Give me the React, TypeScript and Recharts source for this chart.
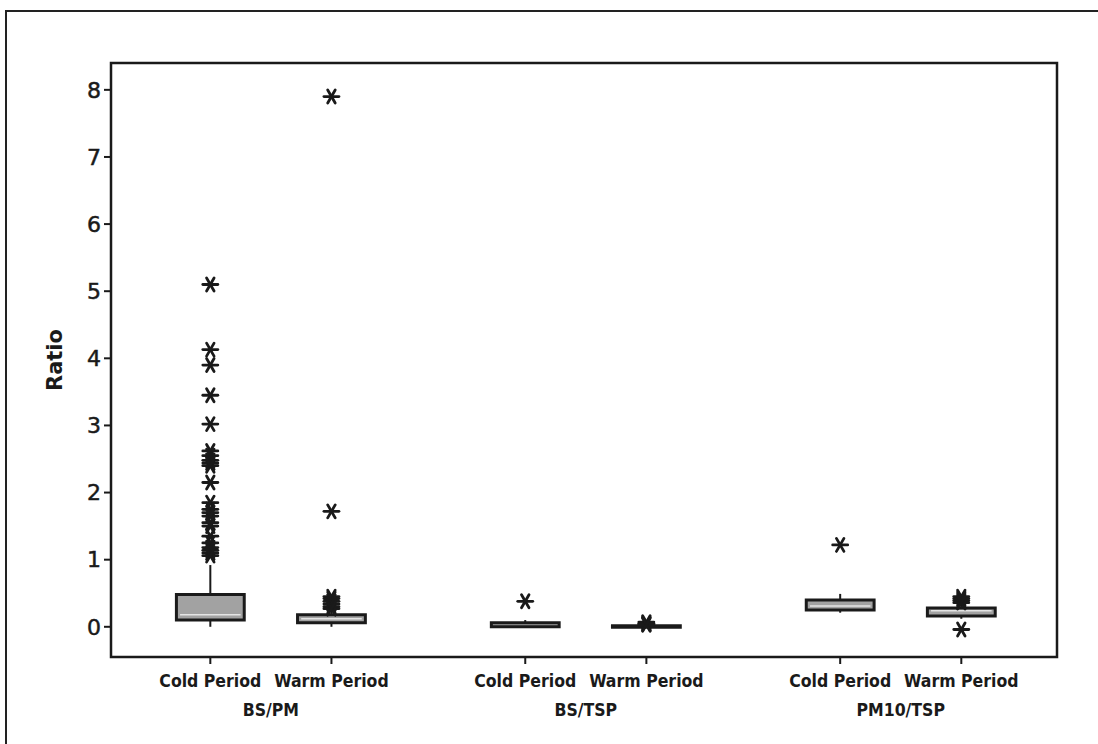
import {
  ComposedChart,
  XAxis,
  YAxis,
  Scatter,
  ReferenceArea,
  ReferenceLine,
} from 'recharts';

// slot positions on the x scale (two periods per ratio group)
const positions = [1, 2, 3.6, 4.6, 6.2, 7.2];
const periodLabels = ['Cold Period', 'Warm Period', 'Cold Period', 'Warm Period', 'Cold Period', 'Warm Period'];
const groupPositions = [1.5, 4.1, 6.7];
const groupLabels = ['BS/PM', 'BS/TSP', 'PM10/TSP'];
const yTicks = [0, 1, 2, 3, 4, 5, 6, 7, 8];

// box statistics per slot
const whiskerLow = [0.0, 0.0, -0.01, -0.01, 0.21, 0.12];
const q1 = [0.1, 0.06, 0.0, -0.005, 0.25, 0.16];
const median = [0.18, 0.12, 0.03, 0.005, 0.31, 0.24];
const q3 = [0.48, 0.18, 0.06, 0.015, 0.4, 0.28];
const whiskerHigh = [0.92, 0.25, 0.1, 0.03, 0.49, 0.33];

const outliers: number[][] = [
  [5.1, 4.13, 3.9, 3.45, 3.02, 2.62, 2.55, 2.48, 2.44, 2.4, 2.15, 1.85, 1.75, 1.7, 1.65, 1.55, 1.5, 1.35, 1.25, 1.18, 1.14, 1.1, 1.06],
  [7.9, 1.72, 0.45, 0.42, 0.38, 0.34, 0.3, 0.27],
  [0.38],
  [0.07, 0.05, 0.04, 0.03],
  [1.22],
  [0.45, 0.42, 0.39, 0.36, -0.04],
];

const X_DOMAIN: [number, number] = [0.18, 7.99];
const Y_DOMAIN: [number, number] = [-0.45, 8.4];
const BOX_HALF = 0.28;

const outlierPoints = outliers.flatMap((vals, i) => vals.map((v) => ({ x: positions[i], y: v })));
const groupAnchors = groupPositions.map((x) => ({ x, y: 0 }));

const LABEL_FONT = "'DejaVu Sans Condensed', 'DejaVu Sans', sans-serif";
const NUM_FONT = "'DejaVu Sans', Verdana, sans-serif";

const Asterisk = (props: any) => {
  const { cx, cy } = props;
  if (cx == null || cy == null) return null;
  const r = 7.5;
  const arms = [0, 60, 120].map((deg) => {
    const a = (deg * Math.PI) / 180;
    const dx = Math.cos(a) * r;
    const dy = Math.sin(a) * r;
    return <line key={deg} x1={cx - dx} y1={cy - dy} x2={cx + dx} y2={cy + dy} />;
  });
  return (
    <g stroke="#1a1a1a" strokeWidth={2.8} strokeLinecap="round">
      {arms}
    </g>
  );
};

const PeriodTick = (props: any) => {
  const { x, y, payload } = props;
  const idx = positions.indexOf(payload.value);
  return (
    <text x={x} y={y + 21} textAnchor="middle" fontFamily={LABEL_FONT} fontWeight="bold" fontSize={17.5} fill="#1a1a1a">
      {periodLabels[idx]}
    </text>
  );
};

const GroupTick = (props: any) => {
  const { x, y, payload } = props;
  const idx = groupPositions.findIndex((g) => Math.abs(g - payload.value) < 1e-6);
  return (
    <text x={x} y={y + 17} textAnchor="middle" fontFamily={LABEL_FONT} fontWeight="bold" fontSize={17.5} fill="#1a1a1a">
      {groupLabels[idx]}
    </text>
  );
};

export default function App() {
  return (
    <div style={{ position: 'relative', width: 1090, height: 728, background: '#fff' }}>
      <style>{'html, body { overflow: hidden; }'}</style>
      <ComposedChart width={1090} height={728} margin={{ top: 55, right: 41, bottom: 0, left: 0 }}>
        <XAxis
          xAxisId="a-period"
          type="number"
          dataKey="x"
          domain={X_DOMAIN}
          ticks={positions}
          allowDataOverflow
          height={40}
          tickSize={7}
          tickMargin={2}
          axisLine={false}
          tickLine={{ stroke: '#1a1a1a', strokeWidth: 2 }}
          tick={<PeriodTick />}
          interval={0}
        />
        <XAxis
          xAxisId="b-group"
          type="number"
          dataKey="x"
          domain={X_DOMAIN}
          ticks={groupPositions}
          allowDataOverflow
          height={39}
          tickSize={0}
          axisLine={false}
          tickLine={false}
          tick={<GroupTick />}
          interval={0}
        />
        <YAxis
          type="number"
          domain={Y_DOMAIN}
          ticks={yTicks}
          allowDataOverflow
          width={103}
          tickSize={7}
          tickMargin={3}
          axisLine={false}
          tickLine={{ stroke: '#1a1a1a', strokeWidth: 2 }}
          tick={{ fill: '#1a1a1a', fontSize: 22, fontFamily: NUM_FONT, stroke: '#1a1a1a', strokeWidth: 0.5 }}
          interval={0}
          label={{
            value: 'Ratio',
            angle: -90,
            position: 'insideLeft',
            dx: 42,
            style: {
              fill: '#1a1a1a',
              fontSize: 21,
              fontWeight: 'bold',
              fontFamily: NUM_FONT,
              textAnchor: 'middle',
            },
          }}
        />

        {positions.map((p, i) => (
          <ReferenceLine
            key={`wl-${i}`}
            xAxisId="a-period"
            segment={[
              { x: p, y: whiskerLow[i] },
              { x: p, y: q1[i] },
            ]}
            stroke="#1a1a1a"
            strokeWidth={2}
          />
        ))}
        {positions.map((p, i) => (
          <ReferenceLine
            key={`wh-${i}`}
            xAxisId="a-period"
            segment={[
              { x: p, y: q3[i] },
              { x: p, y: whiskerHigh[i] },
            ]}
            stroke="#1a1a1a"
            strokeWidth={2}
          />
        ))}
        {positions.map((p, i) => (
          <ReferenceArea
            key={`box-${i}`}
            xAxisId="a-period"
            x1={p - BOX_HALF}
            x2={p + BOX_HALF}
            y1={q1[i]}
            y2={q3[i]}
            fill="#a2a2a2"
            fillOpacity={1}
            stroke="#1a1a1a"
            strokeWidth={3}
          />
        ))}
        {/* median only visible where the box is tall enough to hold it */}
        {positions.map((p, i) =>
          q3[i] - q1[i] > 0.1 ? (
            <ReferenceLine
              key={`med-${i}`}
              xAxisId="a-period"
              segment={[
                { x: p - BOX_HALF + 0.03, y: median[i] },
                { x: p + BOX_HALF - 0.03, y: median[i] },
              ]}
              stroke="#e4e4e4"
              strokeWidth={1.5}
            />
          ) : null
        )}

        <Scatter xAxisId="a-period" data={outlierPoints} dataKey="y" shape={<Asterisk />} isAnimationActive={false} />
        <Scatter xAxisId="b-group" data={groupAnchors} dataKey="y" shape={() => null} isAnimationActive={false} />

        <ReferenceArea
          xAxisId="a-period"
          x1={X_DOMAIN[0]}
          x2={X_DOMAIN[1]}
          y1={Y_DOMAIN[0]}
          y2={Y_DOMAIN[1]}
          fill="none"
          stroke="#1a1a1a"
          strokeWidth={2.5}
        />
      </ComposedChart>
      {/* page frame: top and left edges only, running off the page */}
      <div
        style={{
          position: 'fixed',
          left: 5,
          top: 10,
          width: 1400,
          height: 1000,
          borderTop: '2px solid #222',
          borderLeft: '2px solid #222',
          pointerEvents: 'none',
        }}
      />
    </div>
  );
}
